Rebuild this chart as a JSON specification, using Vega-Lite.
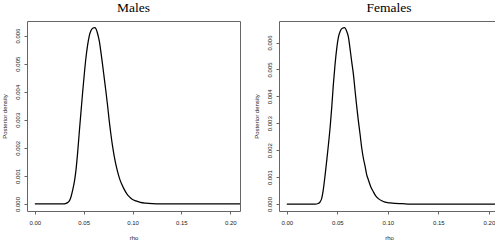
{
  "$schema": "https://vega.github.io/schema/vega-lite/v6.json",
  "padding": {"left": 0, "top": 0, "right": 0, "bottom": 0},
  "spacing": 11,
  "datasets": {
    "males": [
      {"rho": 0, "density": 0}, {"rho": 0.01, "density": 0}, {"rho": 0.02, "density": 0}, {"rho": 0.028, "density": 0},
      {"rho": 0.03, "density": 0.000005}, {"rho": 0.032, "density": 0.00002}, {"rho": 0.034, "density": 0.00006},
      {"rho": 0.0355, "density": 0.00012}, {"rho": 0.037, "density": 0.00025}, {"rho": 0.0388, "density": 0.0005},
      {"rho": 0.0405, "density": 0.0008}, {"rho": 0.0421, "density": 0.0012}, {"rho": 0.044, "density": 0.0019},
      {"rho": 0.0456, "density": 0.0026}, {"rho": 0.0473, "density": 0.0033}, {"rho": 0.049, "density": 0.004},
      {"rho": 0.0507, "density": 0.00465}, {"rho": 0.0523, "density": 0.0052}, {"rho": 0.054, "density": 0.00565},
      {"rho": 0.0558, "density": 0.006}, {"rho": 0.0575, "density": 0.00618}, {"rho": 0.0592, "density": 0.00626},
      {"rho": 0.0615, "density": 0.00628}, {"rho": 0.064, "density": 0.0061}, {"rho": 0.066, "density": 0.0058},
      {"rho": 0.0677, "density": 0.0054}, {"rho": 0.0694, "density": 0.00495}, {"rho": 0.071, "density": 0.0045},
      {"rho": 0.0728, "density": 0.004}, {"rho": 0.0745, "density": 0.0035}, {"rho": 0.0762, "density": 0.00295},
      {"rho": 0.078, "density": 0.00245}, {"rho": 0.0796, "density": 0.00205}, {"rho": 0.0813, "density": 0.0017},
      {"rho": 0.083, "density": 0.0014}, {"rho": 0.0847, "density": 0.00115}, {"rho": 0.0864, "density": 0.00094},
      {"rho": 0.089, "density": 0.0007}, {"rho": 0.0915, "density": 0.00052}, {"rho": 0.094, "density": 0.00037},
      {"rho": 0.0966, "density": 0.00026}, {"rho": 0.1, "density": 0.00016}, {"rho": 0.1034, "density": 0.00011},
      {"rho": 0.108, "density": 0.00006}, {"rho": 0.1136, "density": 0.00003}, {"rho": 0.12, "density": 0.00001},
      {"rho": 0.13, "density": 0}, {"rho": 0.15, "density": 0}, {"rho": 0.18, "density": 0}, {"rho": 0.21, "density": 0}
    ],
    "females": [
      {"rho": 0, "density": 0}, {"rho": 0.01, "density": 0}, {"rho": 0.02, "density": 0}, {"rho": 0.028, "density": 0},
      {"rho": 0.031, "density": 0.00002}, {"rho": 0.033, "density": 0.00008}, {"rho": 0.0345, "density": 0.0002},
      {"rho": 0.036, "density": 0.0005}, {"rho": 0.038, "density": 0.0011}, {"rho": 0.0395, "density": 0.0016},
      {"rho": 0.0412, "density": 0.0022}, {"rho": 0.043, "density": 0.0029}, {"rho": 0.0445, "density": 0.0036},
      {"rho": 0.046, "density": 0.0044}, {"rho": 0.0478, "density": 0.0052}, {"rho": 0.0495, "density": 0.0058},
      {"rho": 0.0511, "density": 0.0062}, {"rho": 0.053, "density": 0.00643}, {"rho": 0.055, "density": 0.00653},
      {"rho": 0.057, "density": 0.00655}, {"rho": 0.059, "density": 0.00645}, {"rho": 0.061, "density": 0.0062},
      {"rho": 0.0625, "density": 0.0058}, {"rho": 0.0642, "density": 0.0053}, {"rho": 0.066, "density": 0.0048},
      {"rho": 0.0676, "density": 0.0042}, {"rho": 0.069, "density": 0.0037}, {"rho": 0.0708, "density": 0.0031},
      {"rho": 0.0725, "density": 0.0026}, {"rho": 0.0741, "density": 0.0021}, {"rho": 0.0758, "density": 0.0017},
      {"rho": 0.0775, "density": 0.0014}, {"rho": 0.079, "density": 0.0011}, {"rho": 0.0807, "density": 0.0009},
      {"rho": 0.083, "density": 0.00065}, {"rho": 0.0857, "density": 0.00045}, {"rho": 0.088, "density": 0.0003},
      {"rho": 0.0906, "density": 0.0002}, {"rho": 0.094, "density": 0.00012}, {"rho": 0.0972, "density": 0.00007},
      {"rho": 0.102, "density": 0.00004}, {"rho": 0.107, "density": 0.00002}, {"rho": 0.115, "density": 0.00001},
      {"rho": 0.12, "density": 0}, {"rho": 0.15, "density": 0}, {"rho": 0.18, "density": 0}, {"rho": 0.21, "density": 0}
    ]
  },
  "hconcat": [
    {
      "title": "Males",
      "width": 213,
      "height": 190,
      "data": {"name": "males"},
      "mark": {"type": "line", "color": "#000000", "strokeWidth": 1.25, "clip": true, "interpolate": "monotone"},
      "encoding": {
        "x": {"field": "rho", "type": "quantitative",
          "scale": {"domain": [-0.008, 0.21], "nice": false, "zero": false},
          "axis": {"title": "rho", "values": [0, 0.05, 0.1, 0.15, 0.2], "format": ".2f"}},
        "y": {"field": "density", "type": "quantitative",
          "scale": {"domain": [-0.00025, 0.00652], "nice": false, "zero": false},
          "axis": {"title": "Posterior density", "values": [0, 0.001, 0.002, 0.003, 0.004, 0.005, 0.006], "format": ".3f"}}
      }
    },
    {
      "title": "Females",
      "width": 220,
      "height": 190,
      "data": {"name": "females"},
      "mark": {"type": "line", "color": "#000000", "strokeWidth": 1.25, "clip": true, "interpolate": "monotone"},
      "encoding": {
        "x": {"field": "rho", "type": "quantitative",
          "scale": {"domain": [-0.0077, 0.21], "nice": false, "zero": false},
          "axis": {"title": "rho", "values": [0, 0.05, 0.1, 0.15, 0.2], "format": ".2f"}},
        "y": {"field": "density", "type": "quantitative",
          "scale": {"domain": [-0.00026, 0.0068], "nice": false, "zero": false},
          "axis": {"title": "Posterior density", "values": [0, 0.001, 0.002, 0.003, 0.004, 0.005, 0.006], "format": ".3f"}}
      }
    }
  ],
  "config": {
    "view": {"stroke": "#666666", "strokeWidth": 1},
    "title": {"font": "Liberation Serif", "fontSize": 13.5, "fontWeight": "normal", "color": "#000000", "offset": 6.5, "anchor": "middle", "frame": "group"},
    "axis": {
      "grid": false, "domain": false, "tickColor": "#666666", "tickSize": 3, "tickWidth": 1,
      "labelFont": "Liberation Sans", "labelFontSize": 6, "labelColor": "#222222",
      "labelFlush": false, "labelOverlap": false, "labelBound": false,
      "titleFont": "Liberation Sans", "titleFontSize": 6, "titleFontWeight": "normal", "titleColor": "#222222"
    },
    "axisX": {"labelPadding": 5.5, "titlePadding": 9},
    "axisY": {"labelAngle": 270, "labelAlign": "center", "labelBaseline": "bottom", "labelPadding": 3.8, "titlePadding": 7}
  }
}
